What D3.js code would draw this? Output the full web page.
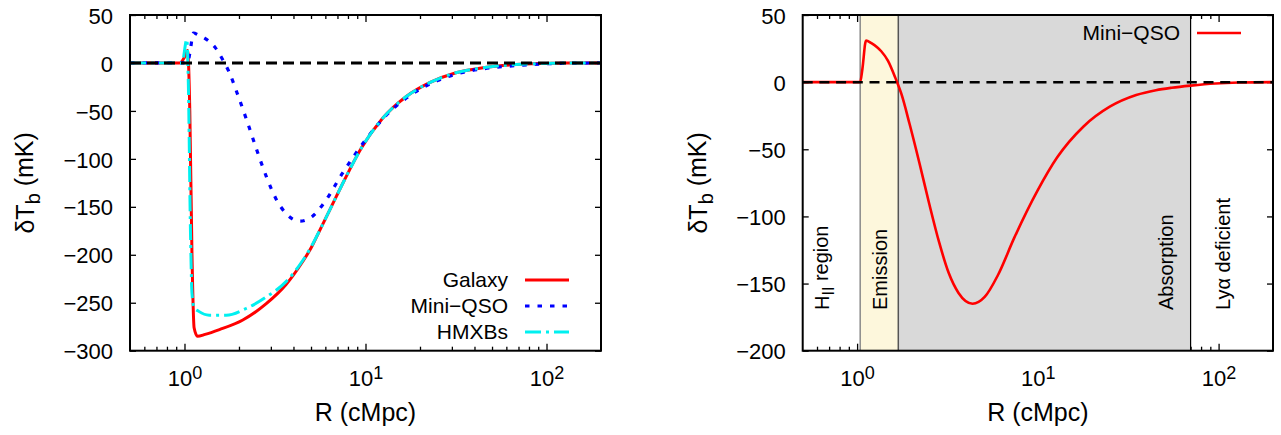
<!DOCTYPE html>
<html>
<head>
<meta charset="utf-8">
<script src="https://cdn.jsdelivr.net/npm/d3@7"></script>
<style>
  body { margin: 0; background: #fff; }
  svg { display: block; }
  text { font-family: "Liberation Sans", Arial, Helvetica, sans-serif; fill: #000; }
</style>
</head>
<body>
<svg id="chart" width="1281" height="435"></svg>
<script>
// ---- Brightness-temperature profiles δT_b(R) around a source ----
const galaxyR = [0.5, 0.94, 1.0, 1.04, 1.07, 1.1, 1.13, 1.18, 1.3, 1.56, 2.1, 2.83, 3.64, 4.5, 5.0, 5.57, 6.47, 7.65, 9.47, 12.4, 16.8, 22.6, 31.6, 44.5, 67.8, 100, 130, 200];
const galaxyT = [0, 0, 6, 13, -50, -200, -276, -285, -283, -278, -268, -251, -231, -207, -193, -175, -150, -122, -89, -58, -35, -20.6, -10.2, -5, -1.6, -0.5, 0, 0];

const miniR = [0.5, 1.04, 1.07, 1.12, 1.2, 1.29, 1.36, 1.48, 1.63, 1.76, 1.95, 2.21, 2.5, 2.84, 3.21, 3.64, 4.35, 5.08, 6.0, 7.4, 9.94, 12.8, 17.9, 25, 35, 45, 55, 70, 96, 130, 200];
const miniT = [0, 0, 10, 31, 29, 26, 23, 16, 3, -9, -31, -60, -90, -119, -142, -157, -165, -160, -144, -116, -81, -56, -33, -18.3, -9.6, -6.0, -4.2, -2.6, -1.0, -0.3, 0];

const hmxbR = [0.5, 0.97, 1.03, 1.05, 1.08, 1.1, 1.13, 1.2, 1.37, 1.7, 2.19, 2.83, 3.64, 4.5, 5.0, 5.57, 6.47, 7.65, 9.47, 12.4, 16.8, 22.6, 31.6, 44.5, 67.8, 100, 130, 200];
const hmxbT = [0, 0, 24.6, -20, -180, -240, -255, -259, -263, -263, -256, -244, -228, -206, -192, -175, -150, -122, -89, -58, -35, -20.6, -10.2, -5, -1.6, -0.5, 0, 0];

const seriesNames = ["Galaxy", "Mini\u2212QSO", "HMXBs"];
const seriesColors = ["#ff0000", "#0000ff", "#00f0f0"];

// Radial zones of the Mini-QSO profile (cMpc)
const zoneEdges = [1.04, 1.69, 70];
const zoneLabels = ["region", "Emission", "Absorption", "Ly\u03b1 deficient"];
const zoneLabelR = [0.70, 1.47, 55.6, 115];

// Axis ticks
const xMajor = [1, 10, 100];
const xMinor = [0.6, 0.7, 0.8, 0.9, 2, 3, 4, 5, 6, 7, 8, 9, 20, 30, 40, 50, 60, 70, 80, 90];
const yTicksLeft = [50, 0, -50, -100, -150, -200, -250, -300];
const yTicksRight = [50, 0, -50, -100, -150, -200];

const svg = d3.select("#chart");
const FS = 22;      // tick labels
const FS_AXIS = 25; // axis titles
const FS_KEY = 21;  // legend

function zip(rs, ts) { return rs.map((r, i) => ({ r, t: ts[i] })); }

function makePanel(box, yDomain, yTicks) {
  const x = d3.scaleLog().domain([0.5, 200]).range([box.x0, box.x1]);
  const y = d3.scaleLinear().domain(yDomain).range([box.y1, box.y0]);
  const g = svg.append("g");
  return { x, y, g, box, yTicks };
}

function drawTicks(p) {
  const { x, y, g, box, yTicks } = p;
  const clean = s => s.select(".domain").remove();
  const ax = g.append("g");
  // bottom
  ax.append("g").attr("transform", `translate(0,${box.y1})`)
    .call(d3.axisBottom(x).tickValues(xMinor).tickSize(-4).tickFormat(() => ""))
    .call(clean);
  const bottom = ax.append("g").attr("transform", `translate(0,${box.y1})`)
    .call(d3.axisBottom(x).tickValues(xMajor).tickSize(-7).tickPadding(20).tickFormat(() => ""))
    .call(clean);
  bottom.selectAll(".tick text").each(function (d) {
    const t = d3.select(this);
    t.attr("font-size", FS).attr("font-family", null).attr("fill", "#000");
    t.append("tspan").text("10");
    t.append("tspan").attr("dy", "-0.42em").attr("font-size", FS * 0.82).text(Math.round(Math.log10(d)));
  });
  // top
  ax.append("g").attr("transform", `translate(0,${box.y0})`)
    .call(d3.axisTop(x).tickValues(xMinor).tickSize(-4).tickFormat(() => ""))
    .call(clean);
  ax.append("g").attr("transform", `translate(0,${box.y0})`)
    .call(d3.axisTop(x).tickValues(xMajor).tickSize(-7).tickFormat(() => ""))
    .call(clean);
  // left with labels
  ax.append("g").attr("transform", `translate(${box.x0},0)`)
    .call(d3.axisLeft(y).tickValues(yTicks).tickSize(-6).tickPadding(17))
    .call(clean)
    .call(s => s.selectAll(".tick text").attr("font-size", FS).attr("font-family", null)
      .attr("fill", "#000").attr("dy", "0.37em"));
  // right mirror
  ax.append("g").attr("transform", `translate(${box.x1},0)`)
    .call(d3.axisRight(y).tickValues(yTicks).tickSize(-6).tickFormat(() => ""))
    .call(clean);
  ax.selectAll(".tick line").attr("stroke", "#000").attr("stroke-width", 1.3);
}

function drawFrame(p) {
  const { g, box } = p;
  g.append("rect").attr("x", box.x0).attr("y", box.y0)
    .attr("width", box.x1 - box.x0).attr("height", box.y1 - box.y0)
    .attr("fill", "none").attr("stroke", "#000").attr("stroke-width", 2);
}

function drawLabels(p, yLabelX) {
  const { g, box } = p;
  const cx = (box.x0 + box.x1) / 2;
  g.append("text").attr("x", cx).attr("y", 421).attr("text-anchor", "middle")
    .attr("font-size", FS_AXIS).text("R (cMpc)");
  const cy = (box.y0 + box.y1) / 2;
  const yl = g.append("text").attr("transform", `translate(${yLabelX},${cy}) rotate(-90)`)
    .attr("text-anchor", "middle").attr("font-size", FS_AXIS);
  yl.append("tspan").text("\u03b4T");
  yl.append("tspan").attr("dy", "0.3em").attr("font-size", FS_AXIS * 0.8).text("b");
  yl.append("tspan").attr("dy", "-0.3em").text(" (mK)");
}

function drawCurve(p, rs, ts, color, width, dash) {
  const { x, y, g } = p;
  const gen = d3.line().x(d => x(d.r)).y(d => y(d.t)).curve(d3.curveMonotoneX);
  g.append("path").datum(zip(rs, ts)).attr("d", gen)
    .attr("fill", "none").attr("stroke", color).attr("stroke-width", width)
    .attr("stroke-linejoin", "round")
    .attr("stroke-dasharray", dash || null);
}

function drawZero(p, width, dash) {
  const { x, y, g } = p;
  g.append("line").attr("x1", x(0.5)).attr("x2", x(200)).attr("y1", y(0)).attr("y2", y(0))
    .attr("stroke", "#000").attr("stroke-width", width).attr("stroke-dasharray", dash);
}

// ---------------- Left panel: three source models ----------------
const left = makePanel({ x0: 130, x1: 601, y0: 15, y1: 350.7 }, [-300, 50], yTicksLeft);
drawTicks(left);
const styles = [
  { w: 3, dash: null },
  { w: 3.2, dash: "4.5,8" },
  { w: 3, dash: "16,5,3,5" }
];
const data = [[galaxyR, galaxyT], [miniR, miniT], [hmxbR, hmxbT]];
data.forEach((d, i) => drawCurve(left, d[0], d[1], seriesColors[i], styles[i].w, styles[i].dash));
drawZero(left, 3, "11,6");
drawFrame(left);
drawLabels(left, 34);

// legend
const leg = left.g.append("g");
seriesNames.forEach((name, i) => {
  const yy = 280 + i * 26;
  leg.append("text").attr("x", 508).attr("y", yy + 7).attr("text-anchor", "end")
    .attr("font-size", FS_KEY).text(name);
  leg.append("line").attr("x1", 525).attr("x2", 569).attr("y1", yy).attr("y2", yy)
    .attr("stroke", seriesColors[i]).attr("stroke-width", styles[i].w)
    .attr("stroke-dasharray", styles[i].dash);
});

// ---------------- Right panel: Mini-QSO zones ----------------
const right = makePanel({ x0: 802.7, x1: 1273, y0: 15, y1: 350.7 }, [-200, 50], yTicksRight);
drawTicks(right);
{
  const { x, y, g, box } = right;
  g.append("rect").attr("x", x(zoneEdges[0])).attr("y", box.y0)
    .attr("width", x(zoneEdges[1]) - x(zoneEdges[0])).attr("height", box.y1 - box.y0)
    .attr("fill", "#fdf7dc");
  g.append("rect").attr("x", x(zoneEdges[1])).attr("y", box.y0)
    .attr("width", x(zoneEdges[2]) - x(zoneEdges[1])).attr("height", box.y1 - box.y0)
    .attr("fill", "#d9d9d9");
  const edgeColors = ["#8a8a8a", "#555", "#000"];
  zoneEdges.forEach((e, i) => {
    g.append("line").attr("x1", x(e)).attr("x2", x(e)).attr("y1", box.y0).attr("y2", box.y1)
      .attr("stroke", edgeColors[i]).attr("stroke-width", i === 2 ? 1.2 : 1.5);
  });
  // zone labels, reading upward
  zoneLabels.forEach((lab, i) => {
    const t = g.append("text").attr("transform", `translate(${x(zoneLabelR[i])},310) rotate(-90)`)
      .attr("font-size", 20);
    if (i === 0) {
      t.append("tspan").text("H");
      t.append("tspan").attr("dy", "0.3em").attr("font-size", 16).text("II");
      t.append("tspan").attr("dy", "-0.3em").text(" " + lab);
    } else {
      t.text(lab);
    }
  });
}
drawCurve(right, miniR, miniT, "#ff0000", 2.6, null);
drawZero(right, 2.5, "10,6.7");
drawFrame(right);
drawLabels(right, 707);

const leg2 = right.g.append("g");
leg2.append("text").attr("x", 1180).attr("y", 40).attr("text-anchor", "end")
  .attr("font-size", FS_KEY).text(seriesNames[1]);
leg2.append("line").attr("x1", 1197).attr("x2", 1241).attr("y1", 33).attr("y2", 33)
  .attr("stroke", "#ff0000").attr("stroke-width", 2.6);
</script>
</body>
</html>
